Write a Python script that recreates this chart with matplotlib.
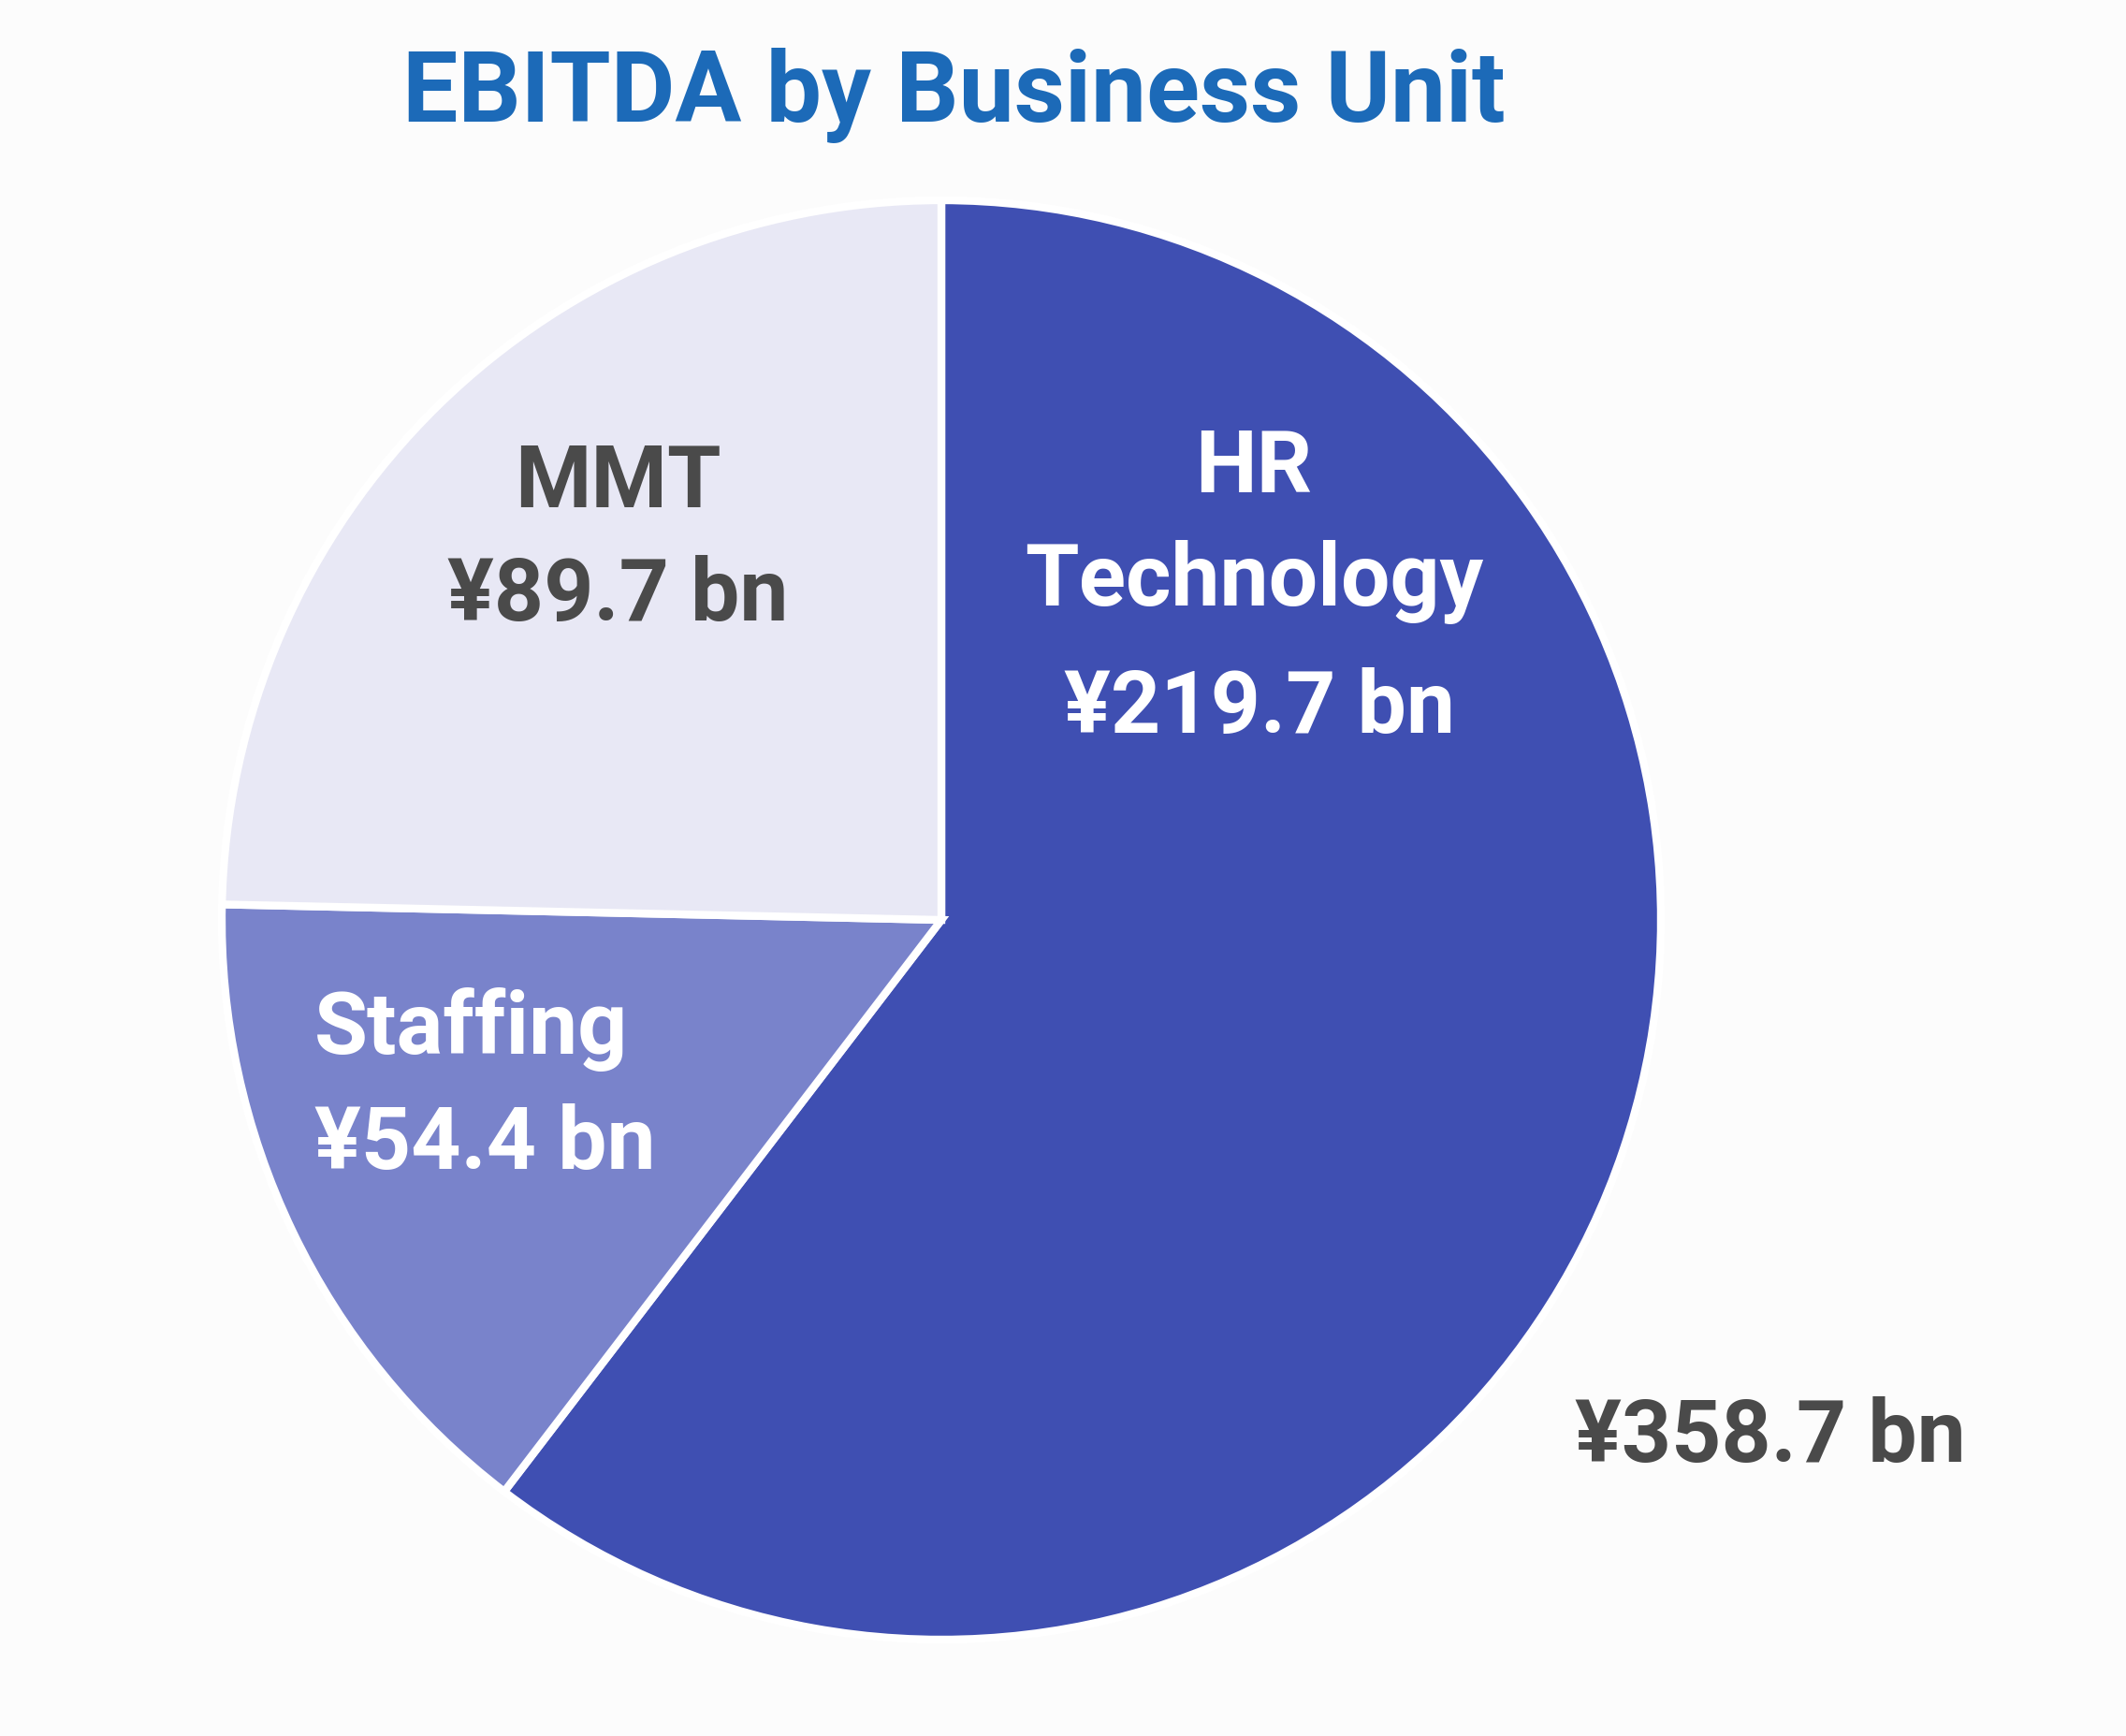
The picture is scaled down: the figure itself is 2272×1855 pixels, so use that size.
import matplotlib
matplotlib.use("Agg")
from matplotlib import pyplot as plt

plt.rcParams["font.family"] = ["Roboto", "DejaVu Sans"]

# EBITDA by business unit, yen billions
units = ["HR Technology", "Staffing", "MMT"]
values = [219.7, 54.4, 89.7]
total = 358.7

colors = ["#3F4FB2", "#7983CB", "#E8E8F5"]
text_colors = ["white", "white", "#4A4A4A"]

W, H = 2272, 1856
fig = plt.figure(figsize=(W / 100, H / 100), dpi=100)
fig.patch.set_facecolor("#FCFCFC")
ax = fig.add_axes([0, 0, 1, 1])

cx, cy, r = 1006, H - 984, 769
ax.pie(values, colors=colors, startangle=90, counterclock=False,
       center=(cx, cy), radius=r, frame=True,
       wedgeprops=dict(edgecolor="white", linewidth=6))
ax.set_xlim(0, W)
ax.set_ylim(0, H)
ax.set_aspect("equal")
ax.axis("off")

fs = 67
bold = dict(fontsize=fs, fontweight="bold")
# HR Technology
hr_top, hr_bottom = units[0].split(" ")
ax.text(1340, H - 500, hr_top, ha="center", va="center",
        color=text_colors[0], **bold)
ax.text(1340, H - 622, hr_bottom, ha="center", va="center",
        color=text_colors[0], **bold)
ax.text(1346, H - 758, f"¥{values[0]} bn", ha="center", va="center",
        color=text_colors[0], **bold)
# Staffing
ax.text(336, H - 1100, units[1], ha="left", va="center",
        color=text_colors[1], **bold)
ax.text(336, H - 1224, f"¥{values[1]} bn", ha="left", va="center",
        color=text_colors[1], **bold)
# MMT
ax.text(660, H - 516, units[2], ha="center", va="center",
        color=text_colors[2], **bold)
ax.text(660, H - 638, f"¥{values[2]} bn", ha="center", va="center",
        color=text_colors[2], **bold)

# total
ax.text(1892, H - 1537, f"¥{total} bn", ha="center", va="center",
        color="#4A4A4A", **bold)

fig.text(1019 / W, 1 - 102 / H, "EBITDA by Business Unit", ha="center",
         va="center", fontsize=76, fontweight="bold", color="#1C6AB8")

fig.savefig("out.png", dpi=100, facecolor=fig.get_facecolor())
